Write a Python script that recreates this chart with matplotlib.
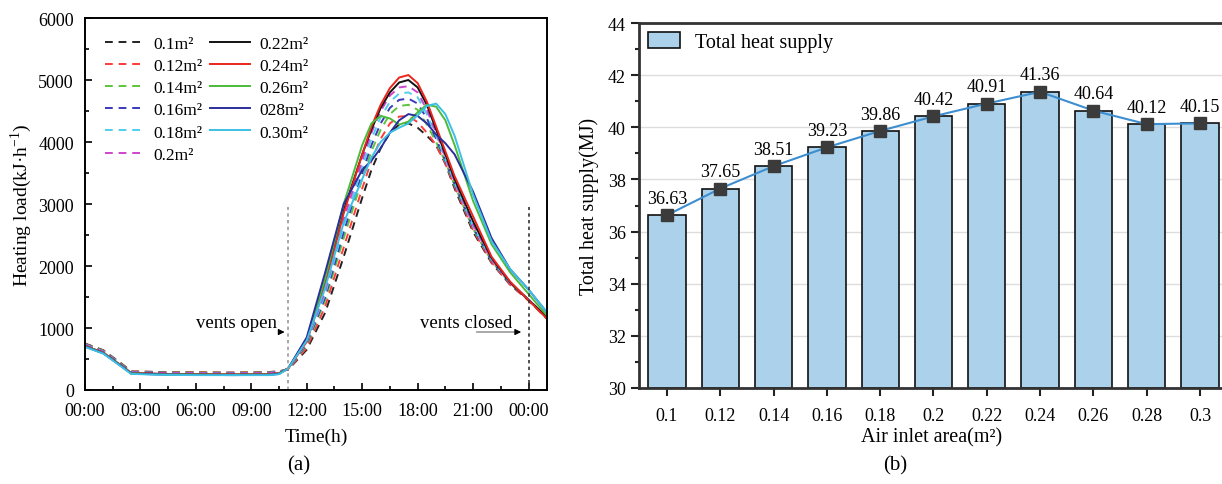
import matplotlib
matplotlib.use("Agg")
import matplotlib.pyplot as plt
from matplotlib.ticker import MultipleLocator, FuncFormatter

plt.rcParams['font.family'] = ['Liberation Serif', 'DejaVu Serif']
plt.rcParams['mathtext.fontset'] = 'stix'

# ---- panel (a): heating load over the day ----
hours = [0, 1, 2, 2.5, 4, 6, 8, 10, 10.5, 11, 12, 13, 14, 15, 15.5, 16, 16.5,
         17, 17.5, 18, 18.5, 19, 19.5, 20, 21, 22, 23, 24, 25]

load_010 = [750, 640, 420, 300, 290, 285, 280, 290, 300, 330, 650, 1250, 2150, 3100, 3550,
            3900, 4150, 4280, 4300, 4230, 4100, 3950, 3650, 3250, 2550, 2050, 1700, 1450, 1150]
load_012 = [745, 635, 415, 300, 290, 285, 280, 290, 300, 330, 680, 1350, 2300, 3250, 3700,
            4050, 4300, 4410, 4420, 4320, 4150, 3950, 3650, 3280, 2580, 2060, 1700, 1440, 1150]
load_014 = [740, 630, 410, 295, 285, 280, 275, 285, 300, 335, 720, 1450, 2450, 3400, 3850,
            4200, 4450, 4580, 4600, 4520, 4280, 4000, 3680, 3300, 2600, 2080, 1720, 1460, 1170]
load_016 = [735, 625, 405, 290, 280, 275, 270, 280, 295, 335, 740, 1500, 2550, 3500, 3950,
            4300, 4550, 4680, 4700, 4620, 4380, 4050, 3700, 3320, 2620, 2090, 1720, 1460, 1170]
load_018 = [730, 620, 400, 285, 275, 270, 265, 275, 290, 340, 760, 1550, 2650, 3600, 4050,
            4400, 4650, 4780, 4800, 4720, 4450, 4100, 3720, 3340, 2640, 2100, 1730, 1460, 1170]
load_020 = [725, 615, 395, 285, 275, 270, 265, 275, 290, 340, 780, 1600, 2750, 3700, 4150,
            4500, 4750, 4880, 4900, 4800, 4520, 4150, 3760, 3370, 2670, 2110, 1730, 1460, 1170]
load_022 = [710, 600, 385, 275, 260, 255, 250, 255, 270, 350, 800, 1750, 2900, 3800, 4200,
            4550, 4800, 4960, 5000, 4880, 4600, 4200, 3800, 3400, 2720, 2130, 1740, 1450, 1180]
load_024 = [710, 600, 385, 275, 260, 255, 250, 255, 270, 350, 780, 1700, 2850, 3800, 4250,
            4600, 4870, 5040, 5080, 4950, 4650, 4250, 3850, 3450, 2800, 2150, 1750, 1450, 1150]
load_026 = [705, 595, 380, 270, 255, 250, 245, 250, 265, 350, 820, 1800, 3000, 3950, 4300,
            4420, 4380, 4280, 4330, 4480, 4600, 4570, 4350, 3950, 3050, 2350, 1900, 1550, 1200]
load_028 = [700, 590, 375, 265, 250, 245, 240, 245, 260, 350, 850, 1900, 3000, 3550, 3700,
            3900, 4150, 4350, 4450, 4420, 4300, 4120, 3980, 3800, 3200, 2450, 1950, 1620, 1250]
load_030 = [695, 585, 370, 260, 245, 240, 240, 240, 255, 350, 800, 1650, 2700, 3400, 3750,
            4000, 4150, 4230, 4300, 4430, 4580, 4620, 4450, 4100, 3150, 2400, 1950, 1620, 1250]

series_loads = [load_010, load_012, load_014, load_016, load_018, load_020,
                load_022, load_024, load_026, load_028, load_030]
series_names = ['0.1m²', '0.12m²', '0.14m²', '0.16m²', '0.18m²', '0.2m²',
                '0.22m²', '0.24m²', '0.26m²', '028m²', '0.30m²']
series_colors = ['#222222', '#ff3b3b', '#5cc43a', '#3a3ab8', '#4fd0ec', '#cc44cc',
                 '#111111', '#e8261e', '#4cbb3a', '#2a2f9a', '#3cc0e6']
series_styles = ['--'] * 6 + ['-'] * 5

vents_open_h = 11
vents_closed_h = 24

# ---- panel (b): total heat supply ----
inlet_areas = ['0.1', '0.12', '0.14', '0.16', '0.18', '0.2', '0.22', '0.24', '0.26', '0.28', '0.3']
heat_supply = [36.63, 37.65, 38.51, 39.23, 39.86, 40.42, 40.91, 41.36, 40.64, 40.12, 40.15]

fig = plt.figure(figsize=(12.22, 4.85), dpi=100)
W, H = 1222, 485
ax1 = fig.add_axes([85 / W, (H - 391) / H, (547 - 85) / W, (391 - 19) / H])
ax2 = fig.add_axes([639 / W, (H - 389) / H, (1224 - 639) / W, (389 - 24) / H])

for vals, name, col, ls in zip(series_loads, series_names, series_colors, series_styles):
    ax1.plot(hours, vals, ls, color=col, lw=1.4, label=name,
             dashes=(4, 3) if ls == '--' else (None, None))

ax1.plot([vents_open_h, vents_open_h], [0, 2950], ls=(0, (2, 2)), color='#999999', lw=1.2)
ax1.plot([vents_closed_h, vents_closed_h], [0, 2950], ls=(0, (2, 2)), color='#333333', lw=1.2)
ax1.annotate('', xy=(10.95, 935), xytext=(10.4, 935),
             arrowprops=dict(arrowstyle='-|>', color='black', lw=0.8, mutation_scale=9))
ax1.text(10.4, 950, 'vents open', ha='right', va='bottom', fontsize=13.5)
ax1.plot([21.2, 23.3], [935, 935], color='#999999', lw=1.2)
ax1.annotate('', xy=(23.75, 935), xytext=(23.2, 935),
             arrowprops=dict(arrowstyle='-|>', color='black', lw=0.8, mutation_scale=9))
ax1.text(23.1, 950, 'vents closed', ha='right', va='bottom', fontsize=13.5)

ax1.set_xlim(0, 25)
ax1.set_ylim(0, 6000)
ax1.xaxis.set_major_locator(MultipleLocator(3))
ax1.xaxis.set_minor_locator(MultipleLocator(1.5))
ax1.yaxis.set_major_locator(MultipleLocator(1000))
ax1.yaxis.set_minor_locator(MultipleLocator(500))
ax1.xaxis.set_major_formatter(FuncFormatter(lambda v, p: '%02d:00' % (int(round(v)) % 24)))
ax1.tick_params(which='both', direction='in', labelsize=13, width=1.2)
ax1.tick_params(which='major', length=5)
ax1.tick_params(which='minor', length=3)
ax1.tick_params(axis='x', pad=9)
ax1.tick_params(axis='y', pad=8)
for s in ax1.spines.values():
    s.set_linewidth(1.4)
ax1.set_xlabel('Time(h)', fontsize=14, labelpad=6)
ax1.set_ylabel('Heating load(kJ·h$^{\\mathregular{-1}}$)', fontsize=14, labelpad=3)
ax1.legend(ncol=2, loc='upper left', frameon=False, fontsize=12.5, handlelength=2.3,
           handletextpad=0.5, columnspacing=0.45, labelspacing=0.35,
           bbox_to_anchor=(0.009, 0.995))
fig.text(299 / W, 1 - 466 / H, '(a)', ha='center', va='center', fontsize=15)

# bars + line
xpos = list(range(len(inlet_areas)))
ax2.grid(axis='y', color='#dddddd', lw=1.0, zorder=0)
ax2.bar(xpos, [v - 30 for v in heat_supply], bottom=30, width=0.7, color='#abd2ea',
        edgecolor='#111111', linewidth=1.2, zorder=2, label='Total heat supply')
ax2.plot(xpos, heat_supply, '-s', color='#3d8ed0', lw=1.5, ms=8,
         mfc='#3b3b3b', mec='#3b3b3b', zorder=3)
for x, v in zip(xpos, heat_supply):
    ax2.annotate('%.2f' % v, (x, v), xytext=(0, 6), textcoords='offset points',
                 ha='center', va='bottom', fontsize=13)
ax2.set_xlim(-0.525, 10.45)
ax2.set_ylim(30, 44)
ax2.set_xticks(xpos)
ax2.set_xticklabels(inlet_areas)
ax2.yaxis.set_major_locator(MultipleLocator(2))
ax2.yaxis.set_minor_locator(MultipleLocator(1))
ax2.tick_params(which='both', direction='out', labelsize=13, width=1.5, color='#222222')
ax2.tick_params(which='major', length=6)
ax2.tick_params(which='minor', length=3)
ax2.tick_params(axis='x', pad=8)
for s in ax2.spines.values():
    s.set_linewidth(2.0)
    s.set_color('#333333')
ax2.set_axisbelow(True)
ax2.set_xlabel('Air inlet area(m²)', fontsize=14.5, labelpad=2)
ax2.set_ylabel('Total heat supply(MJ)', fontsize=14.5, labelpad=6)
ax2.legend(loc='upper left', frameon=False, fontsize=14.5, handlelength=1.6, handleheight=0.85,
           handletextpad=0.75, borderpad=0.2, borderaxespad=0.25)
fig.text(895 / W, 1 - 466 / H, '(b)', ha='center', va='center', fontsize=15)

fig.savefig('out.png', dpi=100)
